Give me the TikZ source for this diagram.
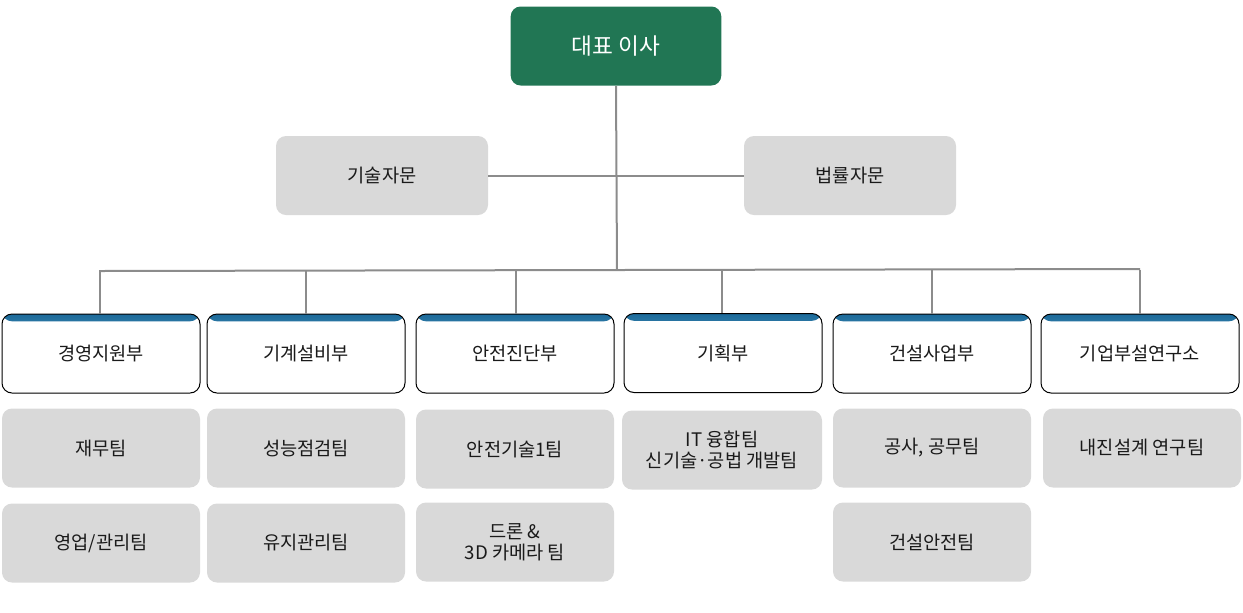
\documentclass[tikz,border=0pt]{standalone}
\usepackage{fontspec}
\setmainfont{Noto Sans CJK KR}
\definecolor{ceogreen}{HTML}{217654}
\definecolor{boxgray}{HTML}{D9D9D9}
\definecolor{linegray}{HTML}{8C8C8C}
\definecolor{stripdark}{HTML}{1B6A9A}
\definecolor{striplight}{HTML}{A8DDF0}
\definecolor{txt}{HTML}{1A1A1A}
\begin{document}
\begin{tikzpicture}[x=0.75pt,y=-0.75pt,
  base/.style={rounded corners=7.5pt,minimum width=148.5pt,minimum height=59.25pt,align=center,font=\fontsize{14pt}{16pt}\selectfont,text=txt,inner sep=2pt},
  ceobox/.style={base,fill=ceogreen,text=white,minimum width=158pt,font=\fontsize{17pt}{19pt}\selectfont},
  advbox/.style={base,fill=boxgray,minimum width=159pt},
  teambox/.style={base,fill=boxgray},
  deptbox/.style={base,draw=black,line width=0.75pt,fill=white,
    path picture={\shade[top color=stripdark,bottom color=striplight]
      (path picture bounding box.north west) rectangle ([yshift=-5.5pt]path picture bounding box.north east);}},
  conn/.style={draw=linegray,line width=1.5pt}]
\useasboundingbox (0,0) rectangle (1243,612);
% top
\node[ceobox] (ceo) at (616,46) {대표 이사};
\node[advbox] (adv1) at (382,175.5) {기술자문};
\node[advbox] (adv2) at (850,175.5) {법률자문};
% departments
\node[deptbox] (d1) at (101,353.5) {경영지원부};
\node[deptbox] (d2) at (306,353.5) {기계설비부};
\node[deptbox] (d3) at (515,353.5) {안전진단부};
\node[deptbox] (d4) at (723,353) {기획부};
\node[deptbox] (d5) at (932,353.5) {건설사업부};
\node[deptbox] (d6) at (1140,353.5) {기업부설연구소};
% teams
\node[teambox] (t11) at (101,448) {재무팀};
\node[teambox] (t12) at (101,543) {영업/관리팀};
\node[teambox] (t21) at (306,448) {성능점검팀};
\node[teambox] (t22) at (306,543) {유지관리팀};
\node[teambox] (t31) at (515,449) {안전기술1팀};
\node[teambox] (t32) at (515,542) {드론 \&\\3D 카메라 팀};
\node[teambox,minimum width=150pt] (t41) at (722,450) {IT 융합팀\\신기술·공법 개발팀};
\node[teambox] (t51) at (932,448) {공사, 공무팀};
\node[teambox] (t52) at (932,542) {건설안전팀};
\node[teambox] (t61) at (1142,448) {내진설계 연구팀};
% connectors
\coordinate (busL) at (100,271);
\coordinate (busR) at (1140,269);
\coordinate (busM) at (617,270);
\draw[conn] (ceo.south) -- (busM);
\draw[conn] (adv1.east) -- (adv2.west);
\draw[conn] (busL) -- (busR);
\foreach \d/\x in {d1/100,d2/306,d3/516,d4/722,d5/932,d6/1140}{
  \draw[conn] (\x,270) -- (\d.north -| \x,270);
}
\end{tikzpicture}
\end{document}
